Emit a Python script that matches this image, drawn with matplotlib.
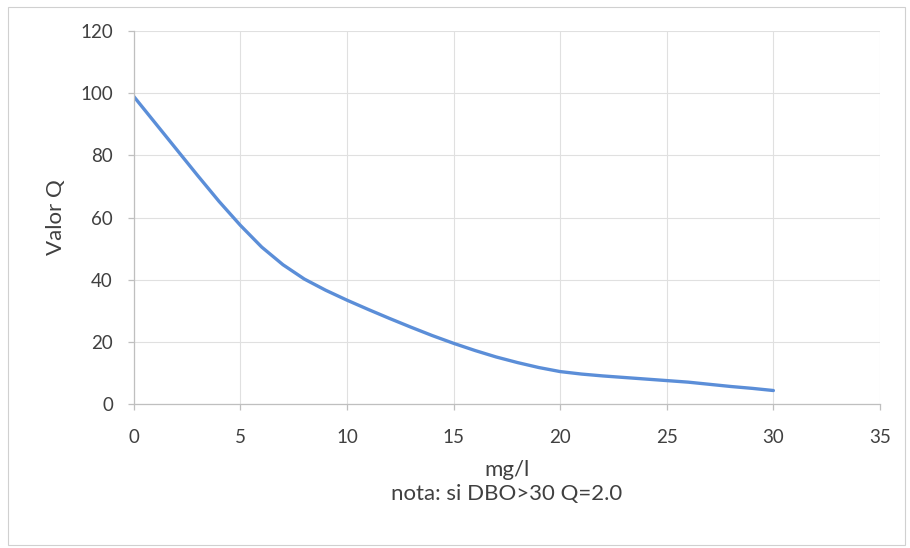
import numpy as np
import matplotlib.pyplot as plt
from matplotlib.patches import Rectangle

plt.rcParams['font.family'] = ['Lato', 'DejaVu Sans']

# DBO (mg/l) vs Valor Q
dbo = [0, 1, 2, 3, 4, 5, 6, 7, 8, 9, 10, 11, 12, 13, 14, 15,
       16, 17, 18, 19, 20, 21, 22, 23, 24, 25, 26, 27, 28, 29, 30]
q = [99, 90.5, 82, 73.5, 65.2, 57.5, 50.5, 44.8, 40.2, 36.6, 33.4, 30.4, 27.5, 24.7, 22, 19.5,
     17.2, 15.1, 13.3, 11.7, 10.4, 9.6, 9, 8.5, 8, 7.5, 7, 6.3, 5.6, 5, 4.3]
xticks = [0, 5, 10, 15, 20, 25, 30, 35]
yticks = [0, 20, 40, 60, 80, 100, 120]

fig = plt.figure(figsize=(9.1, 5.48), dpi=100)
ax = fig.add_axes([0.147, 0.263, 0.82, 0.68])

# borde exterior del grafico
fig.patches.append(Rectangle((0.009, 0.006), 0.985, 0.982, transform=fig.transFigure,
                             fill=False, edgecolor='#d0d0d0', linewidth=0.8))

ax.plot(dbo, q, color='#5b8ed8', linewidth=2.4, solid_capstyle='round',
        solid_joinstyle='round')

ax.set_xlim(0, 35)
ax.set_ylim(0, 120)
ax.set_xticks(xticks)
ax.set_yticks(yticks)
ax.grid(color='#e0e0e0', linewidth=0.8)
ax.set_axisbelow(True)

for s in ['top', 'right']:
    ax.spines[s].set_visible(False)
for s in ['left', 'bottom']:
    ax.spines[s].set_color('#bfbfbf')
    ax.spines[s].set_linewidth(0.9)
ax.tick_params(colors='#bfbfbf', labelcolor='#404040', labelsize=13.5, length=4, width=0.9)
ax.tick_params(axis='x', pad=14)
ax.tick_params(axis='y', pad=11)

ax.set_ylabel('Valor Q', fontsize=16, color='#404040', labelpad=10)
ax.set_xlabel('mg/l\nnota: si DBO>30 Q=2.0', fontsize=16, color='#404040',
              labelpad=10, linespacing=1.25)

plt.savefig('out.png', dpi=100)
